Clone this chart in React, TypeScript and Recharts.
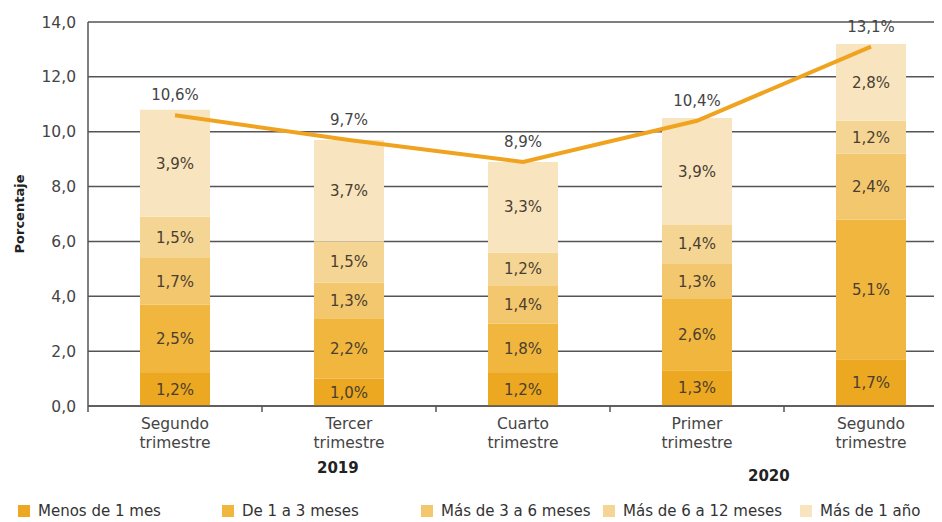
import React from "react";
import {
  Bar,
  CartesianGrid,
  ComposedChart,
  LabelList,
  Line,
  XAxis,
  YAxis,
} from "recharts";

// quarter labels (two lines each)
const quarterNames = ["Segundo", "Tercer", "Cuarto", "Primer", "Segundo"];
const quarterSub = ["trimestre", "trimestre", "trimestre", "trimestre", "trimestre"];

// duration buckets, in percent
const seriesNames = [
  "Menos de 1 mes",
  "De 1 a 3 meses",
  "Más de 3 a 6 meses",
  "Más de 6 a 12 meses",
  "Más de 1 año",
];
const menos1 = [1.2, 1.0, 1.2, 1.3, 1.7];
const de1a3 = [2.5, 2.2, 1.8, 2.6, 5.1];
const de3a6 = [1.7, 1.3, 1.4, 1.3, 2.4];
const de6a12 = [1.5, 1.5, 1.2, 1.4, 1.2];
const mas1 = [3.9, 3.7, 3.3, 3.9, 2.8];
const totals = [10.6, 9.7, 8.9, 10.4, 13.1];

const yTicks = [0, 2, 4, 6, 8, 10, 12, 14];

const COLORS = ["#ECA820", "#F1B63D", "#F3C76E", "#F5D594", "#F8E4BE"];
const FONT = "'DejaVu Sans', sans-serif";

const keys = ["s0", "s1", "s2", "s3", "s4"];
const seriesValues = [menos1, de1a3, de3a6, de6a12, mas1];

const data = quarterNames.map((name, i) => {
  const row: any = { id: i, name, sub: quarterSub[i], total: totals[i] };
  keys.forEach((k, j) => {
    row[k] = seriesValues[j][i];
  });
  return row;
});

const pct = (v: any) => `${Number(v).toFixed(1).replace(".", ",")}%`;

const QuarterTick = ({ x, y, payload }: any) => {
  const row = data[payload.value];
  return (
    <g>
      <line x1={x - 87} x2={x - 87} y1={y - 8} y2={y - 2} stroke="#555" strokeWidth={1.5} />
      <text x={x} y={y} textAnchor="middle" fill="#444" fontSize={15.5} fontFamily={FONT}>
        <tspan x={x} dy={15}>{row.name}</tspan>
        <tspan x={x} dy={19}>{row.sub}</tspan>
      </text>
    </g>
  );
};

export default function App() {
  return (
    <div style={{ position: "relative", width: 934, height: 514, overflow: "hidden" }}>
      <ComposedChart
        width={960}
        height={470}
        data={data}
        margin={{ top: 14, right: 10, left: 0, bottom: 0 }}
      >
        <CartesianGrid vertical={false} stroke="#555" strokeWidth={1.5} />
        <XAxis
          dataKey="id"
          height={72}
          tick={<QuarterTick />}
          tickLine={false}
          axisLine={{ stroke: "#555", strokeWidth: 1.5 }}
          interval={0}
        />
        <YAxis
          width={80}
          domain={[0, 14]}
          ticks={yTicks}
          tickFormatter={(v: number) => v.toFixed(1).replace(".", ",")}
          tick={{ fill: "#444", fontSize: 15.5, fontFamily: FONT }}
          tickLine={false}
          tickMargin={6}
          axisLine={{ stroke: "#555", strokeWidth: 1.5 }}
          label={{
            content: ({ viewBox }: any) => (
              <text
                x={viewBox.x + 11}
                y={viewBox.y + viewBox.height / 2}
                transform={`rotate(-90 ${viewBox.x + 11} ${viewBox.y + viewBox.height / 2})`}
                textAnchor="middle"
                dominantBaseline="central"
                fontSize={13}
                fontWeight="bold"
                fontFamily={FONT}
                fill="#222"
              >
                Porcentaje
              </text>
            ),
          }}
        />
        {keys.map((k, j) => (
          <Bar
            key={k}
            dataKey={k}
            name={seriesNames[j]}
            stackId="a"
            fill={COLORS[j]}
            barSize={70}
            isAnimationActive={false}
          >
            <LabelList
              dataKey={k}
              position="center"
              formatter={pct}
              fill="#4a3e30"
              fontSize={15}
              fontFamily={FONT}
            />
          </Bar>
        ))}
        <Line
          dataKey="total"
          type="linear"
          stroke="#F0A31F"
          strokeWidth={4}
          dot={false}
          isAnimationActive={false}
        >
          <LabelList
            dataKey="total"
            position="top"
            offset={15}
            formatter={pct}
            fill="#444"
            fontSize={15}
            fontFamily={FONT}
          />
        </Line>
      </ComposedChart>

      <div style={{ position: "absolute", left: 309, top: 451, fontFamily: FONT, fontWeight: "bold", fontSize: 15, color: "#222" }}>
        2019
      </div>
      <div style={{ position: "absolute", left: 740, top: 459, fontFamily: FONT, fontWeight: "bold", fontSize: 15, color: "#222" }}>
        2020
      </div>

      <div style={{ position: "absolute", left: 10, top: 494, display: "flex", fontFamily: FONT, fontSize: 15, color: "#333", whiteSpace: "nowrap" }}>
        {seriesNames.map((n, j) => (
          <div key={n} style={{ display: "flex", alignItems: "center", width: [204, 199, 182, 197, 200][j] }}>
            <span style={{ display: "inline-block", width: 12, height: 12, background: COLORS[j], marginRight: 8 }} />
            {n}
          </div>
        ))}
      </div>
    </div>
  );
}
